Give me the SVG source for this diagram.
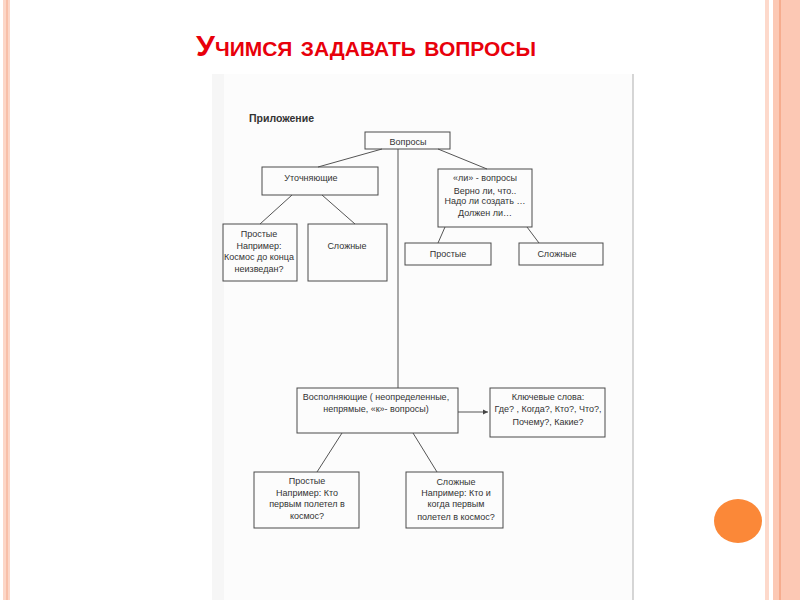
<svg xmlns="http://www.w3.org/2000/svg" width="800" height="600" viewBox="0 0 800 600">
<style>
.box{fill:none;stroke:#4a4a4a;stroke-width:1}
.ln{stroke:#555;stroke-width:1;fill:none}
.t{font-family:"Liberation Sans",Arial,sans-serif;font-size:9px;fill:#333;text-anchor:middle}
.title{font-family:"Liberation Sans",Arial,sans-serif;font-size:29px;font-weight:bold;font-variant:small-caps;fill:#e8000b}
</style>
<defs>
<marker id="arr" markerWidth="6" markerHeight="6" refX="5" refY="3" orient="auto" markerUnits="userSpaceOnUse">
<path d="M0,0.5 L5,3 L0,5.5 Z" fill="#444"/>
</marker>
</defs>
<rect width="800" height="600" fill="#fff"/>
<!-- decorations -->
<rect x="3" y="0" width="7" height="600" fill="#fcd6c7"/>
<rect x="6" y="0" width="2" height="600" fill="#f8bfa8"/>
<rect x="765" y="0" width="4" height="600" fill="#fdd9cb"/>
<rect x="773" y="0" width="27" height="600" fill="#fcc8b4"/>
<rect x="779" y="0" width="2" height="600" fill="#f6ac8e"/>
<ellipse cx="738" cy="521" rx="24" ry="22" fill="#fb8838"/>
<!-- title -->
<text class="title" x="196" y="56" textLength="340" lengthAdjust="spacingAndGlyphs">Учимся задавать вопросы</text>
<!-- page -->
<rect x="212" y="74" width="421" height="526" fill="#fcfcfc"/>
<rect x="212" y="74" width="12" height="526" fill="#f6f6f6"/>
<line x1="633" y1="74" x2="633" y2="600" stroke="#bbb" stroke-width="1.2"/>
<text x="249" y="122" font-family="'Liberation Sans',Arial,sans-serif" font-size="10.5" font-weight="bold" fill="#333">Приложение</text>
<g id="connectors">
<line class="ln" x1="398" y1="149" x2="398" y2="388"/>
<line class="ln" x1="382" y1="149" x2="318" y2="167"/>
<line class="ln" x1="438" y1="149" x2="487" y2="169"/>
<line class="ln" x1="292" y1="195" x2="260" y2="224"/>
<line class="ln" x1="322" y1="195" x2="355" y2="224"/>
<line class="ln" x1="445" y1="227" x2="438" y2="243"/>
<line class="ln" x1="527" y1="227" x2="539" y2="243"/>
<line class="ln" x1="342" y1="433" x2="317" y2="472"/>
<line class="ln" x1="413" y1="433" x2="437" y2="472"/>
<line class="ln" x1="458" y1="412" x2="488" y2="412" marker-end="url(#arr)"/>
</g>
<g id="voprosy">
<rect class="box" x="365" y="132" width="85" height="17"/>
<text class="t" x="408" y="145">Вопросы</text>
</g>
<g id="utochn">
<rect class="box" x="262" y="167" width="116" height="28"/>
<text class="t" x="311" y="181">Уточняющие</text>
</g>
<g id="li">
<rect class="box" x="438" y="169" width="94" height="58"/>
<text class="t" x="485" y="181">«ли» - вопросы</text>
<text class="t" x="485" y="194">Верно ли, что..</text>
<text class="t" x="485" y="204">Надо ли создать …</text>
<text class="t" x="485" y="216">Должен ли…</text>
</g>
<g id="prostye1">
<rect class="box" x="223" y="224" width="74" height="57"/>
<text class="t" x="259" y="237">Простые</text>
<text class="t" x="259" y="249">Например:</text>
<text class="t" x="259" y="260">Космос до конца</text>
<text class="t" x="259" y="272">неизведан?</text>
</g>
<g id="slozhnye1">
<rect class="box" x="308" y="224" width="79" height="57"/>
<text class="t" x="347" y="249">Сложные</text>
</g>
<g id="prostye2">
<rect class="box" x="405" y="243" width="86" height="22"/>
<text class="t" x="448" y="257">Простые</text>
</g>
<g id="slozhnye2">
<rect class="box" x="519" y="243" width="84" height="22"/>
<text class="t" x="557" y="257">Сложные</text>
</g>
<g id="vospoln">
<rect class="box" x="297" y="388" width="161" height="45"/>
<text class="t" x="376" y="400">Восполняющие ( неопределенные,</text>
<text class="t" x="376" y="412">непрямые, «к»- вопросы)</text>
</g>
<g id="klyuch">
<rect class="box" x="490" y="388" width="115" height="49"/>
<text class="t" x="548" y="400">Ключевые слова:</text>
<text class="t" x="548" y="412">Где? , Когда?, Кто?, Что?,</text>
<text class="t" x="548" y="425">Почему?, Какие?</text>
</g>
<g id="prostye3">
<rect class="box" x="254" y="472" width="105" height="56"/>
<text class="t" x="307" y="484">Простые</text>
<text class="t" x="307" y="496">Например: Кто</text>
<text class="t" x="307" y="507">первым полетел в</text>
<text class="t" x="307" y="519">космос?</text>
</g>
<g id="slozhnye3">
<rect class="box" x="406" y="472" width="97" height="56"/>
<text class="t" x="456" y="485">Сложные</text>
<text class="t" x="456" y="496">Например: Кто и</text>
<text class="t" x="456" y="507">когда первым</text>
<text class="t" x="456" y="520">полетел в космос?</text>
</g>
</svg>
